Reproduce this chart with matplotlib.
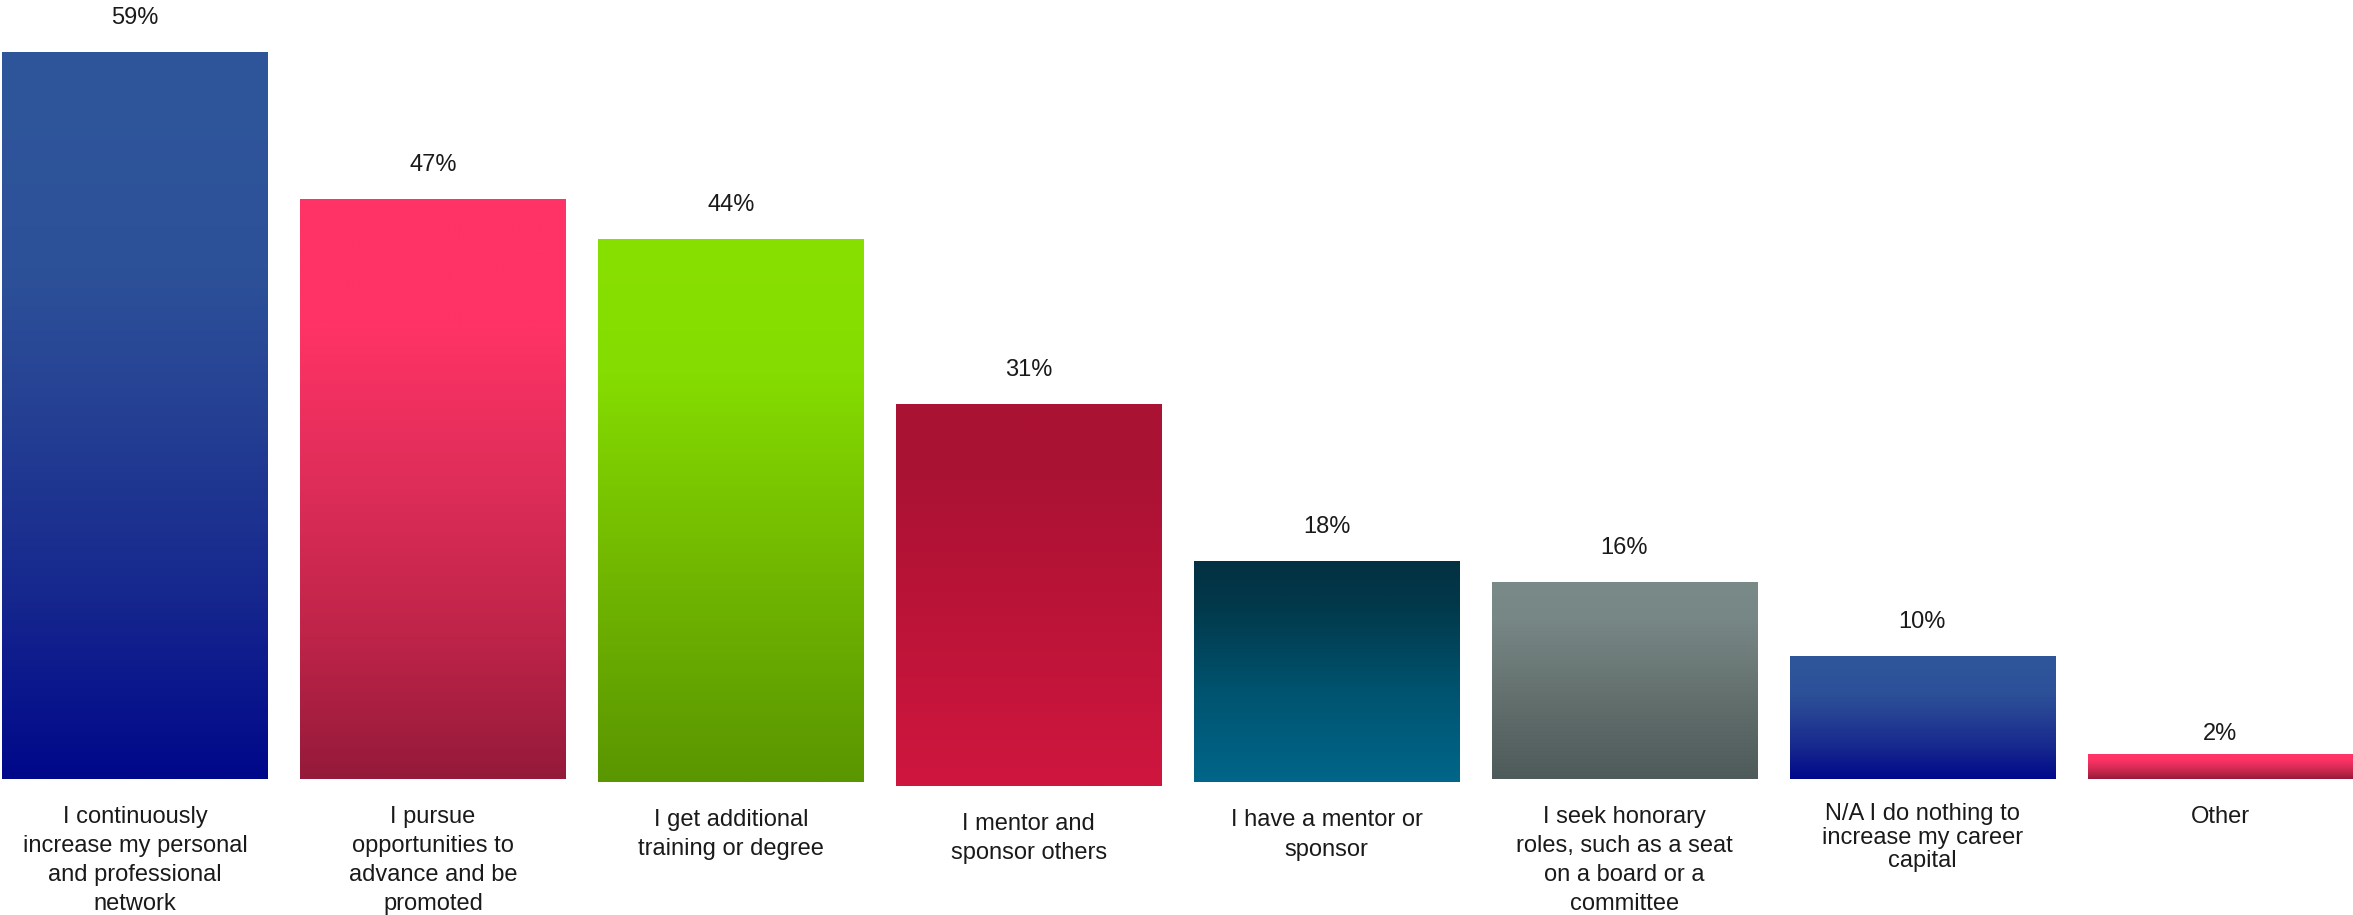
import numpy as np
import matplotlib
matplotlib.use("Agg")
import matplotlib.pyplot as plt
from matplotlib.colors import LinearSegmentedColormap

# ---------------- data ----------------
categories = [
    "I continuously\nincrease my personal\nand professional\nnetwork",
    "I pursue\nopportunities to\nadvance and be\npromoted",
    "I get additional\ntraining or degree",
    "I mentor and\nsponsor others",
    "I have a mentor or\nsponsor",
    "I seek honorary\nroles, such as a seat\non a board or a\ncommittee",
    "N/A I do nothing to\nincrease my career\ncapital",
    "Other",
]
values = [59, 47, 44, 31, 18, 16, 10, 2]
value_labels = ["59%", "47%", "44%", "31%", "18%", "16%", "10%", "2%"]

# ---------------- style ----------------
BLUE = [(0, "#2F569B"), (0.3, "#2D5199"), (0.5, "#254093"), (0.75, "#16278E"), (1, "#00088A")]
PINK = [(0, "#FF3366"), (0.22, "#FF3366"), (0.5, "#DD2D58"), (0.75, "#BF2449"), (1, "#951A3A")]
GREEN = [(0, "#88E000"), (0.25, "#85DC00"), (0.6, "#72B800"), (1, "#5A9600")]
CRIMSON = [(0, "#AA1234"), (0.2, "#AB1234"), (0.6, "#BE1439"), (1, "#CF163F")]
TEAL = [(0, "#023142"), (0.2, "#02384A"), (0.6, "#005470"), (1, "#00668A")]
GRAY = [(0, "#798A88"), (0.2, "#778785"), (0.6, "#636F6D"), (1, "#4F5B5A")]
gradients = [BLUE, PINK, GREEN, CRIMSON, TEAL, GRAY, BLUE, PINK]

baseline_shift_px = [0, 0, 3, 7, 3.5, 0, 0, 0]      # small downward offsets seen in the reference
value_gap_px = [28, 28, 28, 28, 28, 28, 28, 14]
label_gap_px = [27, 27, 27, 27, 27, 27, 24, 27]
label_linespacing = [1.42, 1.42, 1.42, 1.42, 1.42, 1.42, 1.10, 1.42]

plt.rcParams["font.family"] = ["Liberation Sans", "DejaVu Sans"]
FS = 17

W, H, DPI = 2353, 915, 100
fig = plt.figure(figsize=(W / DPI, H / DPI), dpi=DPI)
base_px = 779.0
px_per_unit = 12.33
ax = fig.add_axes([0, (H - base_px) / H, 1, base_px / H])
ax.set_xlim(-0.4532, 7.4455)
ax.set_ylim(0, base_px / px_per_unit)
ax.axis("off")

x = np.arange(len(values))
bottoms = [-s / px_per_unit for s in baseline_shift_px]
bars = ax.bar(x, values, width=0.89, bottom=bottoms, color="none", edgecolor="none")

grad = np.linspace(0, 1, 256).reshape(-1, 1)
for i, (patch, stops) in enumerate(zip(bars.patches, gradients)):
    x0, y0 = patch.get_x(), patch.get_y()
    w, h = patch.get_width(), patch.get_height()
    cmap = LinearSegmentedColormap.from_list(f"g{i}", stops)
    im = ax.imshow(grad, cmap=cmap, aspect="auto", extent=[x0, x0 + w, y0, y0 + h],
                   origin="upper", interpolation="bilinear", zorder=1)
    im.set_clip_path(patch)
    cx = x0 + w / 2
    ax.annotate(value_labels[i], xy=(cx, y0 + h), xytext=(0, value_gap_px[i] * 0.72),
                textcoords="offset points", ha="center", va="baseline",
                fontsize=FS, color="#1a1a1a", annotation_clip=False)
    ax.annotate(categories[i], xy=(cx, y0), xytext=(0, -label_gap_px[i] * 0.72),
                textcoords="offset points", ha="center", va="top",
                multialignment="center", linespacing=label_linespacing[i],
                fontsize=FS, color="#1a1a1a", annotation_clip=False)

ax.set_xlim(-0.4532, 7.4455)
ax.set_ylim(0, base_px / px_per_unit)
fig.savefig("out.png", dpi=DPI)
